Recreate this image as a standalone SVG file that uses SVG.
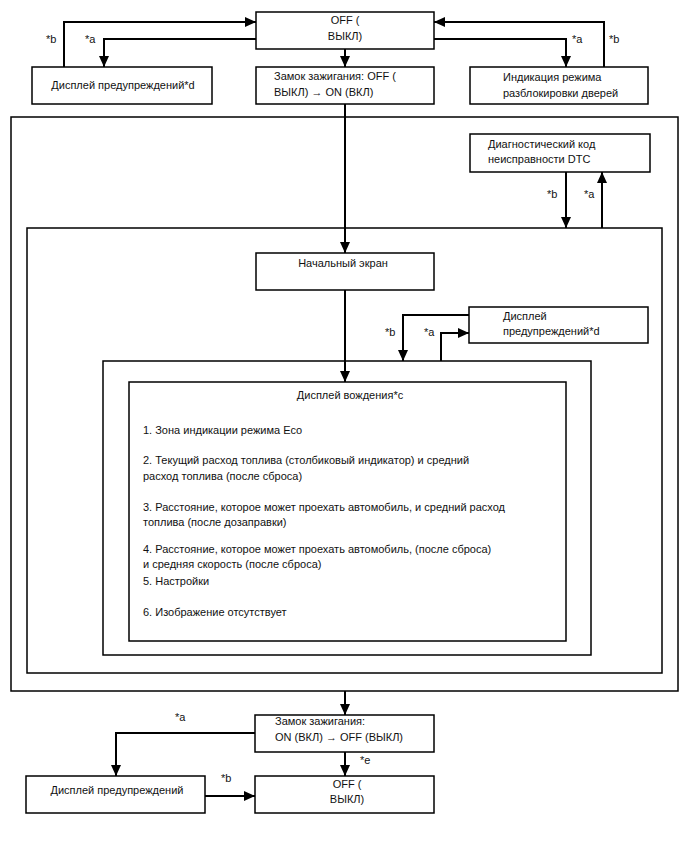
<svg xmlns="http://www.w3.org/2000/svg" width="688" height="852" viewBox="0 0 688 852">
<defs>
<marker id="ah" markerUnits="userSpaceOnUse" markerWidth="12" markerHeight="10" refX="11" refY="5" orient="auto">
<path d="M0,0 L11,5 L0,10 z" fill="#000"/>
</marker>
<style>
.box{fill:#fff;stroke:#000;stroke-width:1.5}
.frame{fill:none;stroke:#000;stroke-width:1.5}
.t{font-family:"Liberation Sans",Arial,sans-serif;font-size:11px;fill:#111}
.c{text-anchor:middle}
.w{fill:none;stroke:#000;stroke-width:2}
.lbl{font-family:"Liberation Sans",Arial,sans-serif;font-size:11px;fill:#111}
</style>
</defs>
<rect width="688" height="852" fill="#fff"/>

<g id="frame-outer"><rect class="frame" x="11" y="117" width="667" height="574"/></g>
<g id="frame-middle"><rect class="frame" x="27" y="228" width="635" height="445"/></g>
<g id="frame-inner"><rect class="frame" x="103" y="361" width="488" height="294"/></g>

<g id="connectors">
<path class="w" d="M64,67 V22 H256" marker-end="url(#ah)"/>
<path class="w" d="M256,39 H104 V67" marker-end="url(#ah)"/>
<path class="w" d="M604,67 V22 H434" marker-end="url(#ah)"/>
<path class="w" d="M434,39 H566 V67" marker-end="url(#ah)"/>
<path class="w" d="M345,49 V67" marker-end="url(#ah)"/>
<path class="w" d="M345,104 V253" marker-end="url(#ah)"/>
<path class="w" d="M566,172 V228" marker-end="url(#ah)"/>
<path class="w" d="M602,228 V172" marker-end="url(#ah)"/>
<path class="w" d="M345,290 V382" marker-end="url(#ah)"/>
<path class="w" d="M469,315 H403 V361" marker-end="url(#ah)"/>
<path class="w" d="M441,361 V333 H469" marker-end="url(#ah)"/>
<path class="w" d="M345,691 V715" marker-end="url(#ah)"/>
<path class="w" d="M255,733 H116 V776" marker-end="url(#ah)"/>
<path class="w" d="M345,752 V776" marker-end="url(#ah)"/>
<path class="w" d="M205,796 H255" marker-end="url(#ah)"/>
<text class="lbl" x="46" y="43">*b</text>
<text class="lbl" x="85" y="43">*a</text>
<text class="lbl" x="572" y="43">*a</text>
<text class="lbl" x="609" y="43">*b</text>
<text class="lbl" x="547" y="198">*b</text>
<text class="lbl" x="584" y="198">*a</text>
<text class="lbl" x="385" y="336">*b</text>
<text class="lbl" x="424" y="336">*a</text>
<text class="lbl" x="175" y="721">*a</text>
<text class="lbl" x="360" y="764">*e</text>
<text class="lbl" x="221" y="782">*b</text>
</g>

<g id="off-top">
<rect class="box" x="256" y="12" width="178" height="37"/>
<text class="t c" x="345" y="24">OFF (</text>
<text class="t c" x="345" y="40">ВЫКЛ)</text>
</g>
<g id="warning-top">
<rect class="box" x="32" y="67" width="180" height="37"/>
<text class="t c" x="123" y="89">Дисплей предупреждений*d</text>
</g>
<g id="ignition-on">
<rect class="box" x="256" y="67" width="178" height="37"/>
<text class="t" x="274" y="80">Замок зажигания: OFF (</text>
<text class="t" x="274" y="96">ВЫКЛ) → ON (ВКЛ)</text>
</g>
<g id="door-unlock">
<rect class="box" x="470" y="67" width="178" height="37"/>
<text class="t" x="503" y="81">Индикация режима</text>
<text class="t" x="503" y="97">разблокировки дверей</text>
</g>
<g id="dtc">
<rect class="box" x="470" y="134" width="180" height="38"/>
<text class="t" x="488" y="148">Диагностический код</text>
<text class="t" x="488" y="163">неисправности DTC</text>
</g>
<g id="start-screen">
<rect class="box" x="256" y="253" width="178" height="37"/>
<text class="t c" x="343" y="267">Начальный экран</text>
</g>
<g id="warning-mid">
<rect class="box" x="469" y="307" width="179" height="36"/>
<text class="t" x="503" y="320">Дисплей</text>
<text class="t" x="503" y="335">предупреждений*d</text>
</g>
<g id="driving-display">
<rect class="box" x="129" y="382" width="437" height="259"/>
<text class="t c" x="350" y="399">Дисплей вождения*c</text>
<text class="t" x="143" y="434">1. Зона индикации режима Eco</text>
<text class="t" x="143" y="464">2. Текущий расход топлива (столбиковый индикатор) и средний</text>
<text class="t" x="143" y="480">расход топлива (после сброса)</text>
<text class="t" x="143" y="511">3. Расстояние, которое может проехать автомобиль, и средний расход</text>
<text class="t" x="143" y="526">топлива (после дозаправки)</text>
<text class="t" x="143" y="553">4. Расстояние, которое может проехать автомобиль, (после сброса)</text>
<text class="t" x="143" y="568">и средняя скорость (после сброса)</text>
<text class="t" x="143" y="585">5. Настройки</text>
<text class="t" x="143" y="616">6. Изображение отсутствует</text>
</g>
<g id="ignition-off">
<rect class="box" x="255" y="715" width="179" height="37"/>
<text class="t" x="275" y="725">Замок зажигания:</text>
<text class="t" x="275" y="741">ON (ВКЛ) → OFF (ВЫКЛ)</text>
</g>
<g id="warning-bottom">
<rect class="box" x="26" y="776" width="179" height="37"/>
<text class="t c" x="117" y="794">Дисплей предупреждений</text>
</g>
<g id="off-bottom">
<rect class="box" x="255" y="776" width="179" height="37"/>
<text class="t c" x="347" y="788">OFF (</text>
<text class="t c" x="347" y="803">ВЫКЛ)</text>
</g>
</svg>
